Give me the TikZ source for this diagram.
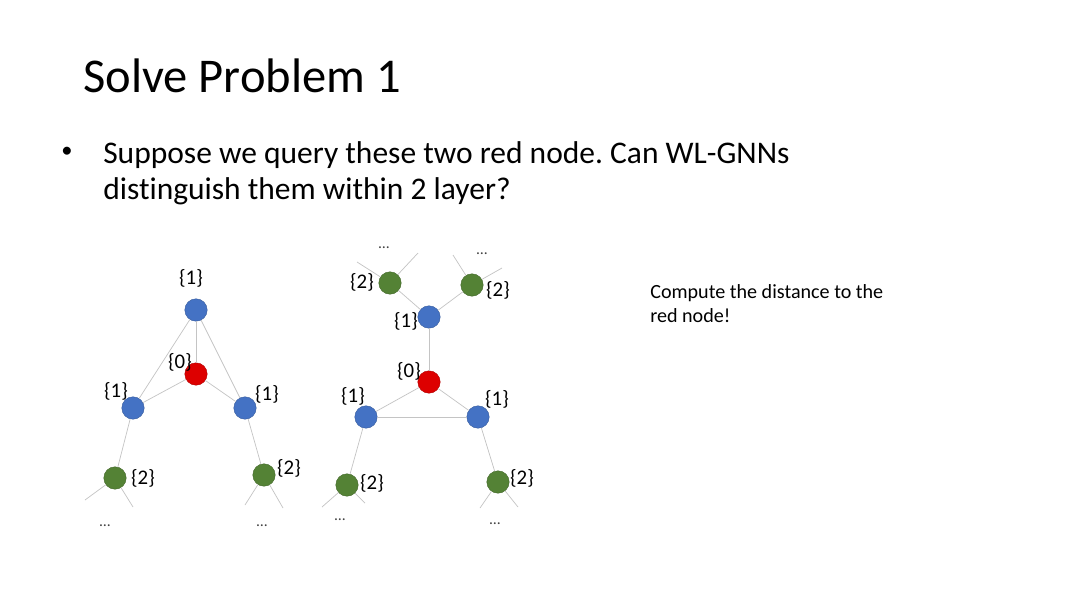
\documentclass[tikz,border=0pt]{standalone}
\usepackage{fontspec}
\setmainfont{Carlito}[Ligatures={NoCommon}]
\usetikzlibrary{positioning}
\definecolor{nodeblue}{HTML}{4472C4}
\definecolor{nodered}{HTML}{DD0000}
\definecolor{nodegreen}{HTML}{548235}
\definecolor{edgegray}{HTML}{C4C4C4}
\frenchspacing
\tikzset{
  % --- graph vertices ---
  vert/.style={circle, minimum size=5.6mm, inner sep=0pt, line width=0.3pt},
  vblue/.style={vert, fill=nodeblue, draw=nodeblue!80!black},
  vred/.style={vert, fill=nodered, draw=nodered!80!black},
  vgreen/.style={vert, fill=nodegreen, draw=nodegreen!80!black},
  % --- edges ---
  gedge/.style={draw=edgegray, line width=0.5pt},
  % --- texts ---
  bodyline/.style={anchor=base west, inner sep=0pt, font=\fontsize{22.4}{26}\selectfont},
  hintline/.style={anchor=base west, inner sep=0pt, font=\fontsize{14.3}{17}\selectfont},
  dist/.style={font=\fontsize{14.8}{16}\selectfont, inner sep=0pt},
  more/.style={font=\fontsize{11}{12}\selectfont, text=black!75, inner sep=0pt, anchor=base},
}

\begin{document}
\begin{tikzpicture}[x=0.025cm, y=-0.025cm]
    \useasboundingbox[fill=white] (0,0) rectangle (1080,607);
    % slide text
    \node[anchor=base west, inner sep=0pt, font=\fontsize{34.5}{40}\selectfont] (title) at (83,92) {Solve Problem 1};
    \node[inner sep=0pt, font=\fontsize{16}{18}\selectfont] (dot) at (67,152) {•};
    \node[bodyline] (body1) at (103,163) {Suppose we query these two red node. Can WL-GNNs};
    \node[bodyline] (body2) at (103,199) {distinguish them within 2 layer?};
    \node[hintline] (hint1) at (650,298) {Compute the distance to the};
    \node[hintline] (hint2) at (650,322) {red node!};
    % left graph
    \node[vblue]  (lt) at (196,310) {};
    \node[vred]   (lr) at (196,374) {};
    \node[vblue]  (ll) at (133,408) {};
    \node[vblue]  (lb) at (245,408) {};
    \node[vgreen] (lg1) at (115,478) {};
    \node[vgreen] (lg2) at (264,475) {};
    % right graph
    \node[vgreen] (ga) at (390,283) {};
    \node[vgreen] (gb) at (472,285) {};
    \node[vblue]  (rt) at (429,317) {};
    \node[vred]   (rr) at (429,382) {};
    \node[vblue]  (rl) at (366,417) {};
    \node[vblue]  (rb) at (478,417) {};
    \node[vgreen] (gc) at (347,485) {};
    \node[vgreen] (gd) at (498,482) {};
    % free ends of the stubs
    \foreach \n/\x/\y in {s1/85/500, s2/133/507, s3/245/505, s4/283/508,
      s5/357/262, s6/418/253, s7/453/255, s8/502/268,
      s9/322/507, s10/365/503, s11/480/508, s12/518/507}{
      \coordinate (\n) at (\x,\y); }
    % edges
    \foreach \a/\b in {lt/lr, lt/ll, lt/lb, lr/ll, lr/lb, ll/lg1, lb/lg2,
      ga/rt, gb/rt, rt/rr, rr/rl, rr/rb, rl/rb, rl/gc, rb/gd}{
      \draw[gedge] (\a) -- (\b); }
    \foreach \a/\b in {lg1/s1, lg1/s2, lg2/s3, lg2/s4, ga/s5, ga/s6, gb/s7, gb/s8,
      gc/s9, gc/s10, gd/s11, gd/s12}{
      \draw[gedge] (\a) -- (\b); }
    % distance labels
    \node[dist] (dlt)  at (191,278) {\{1\}};
    \node[dist] (dlr)  at (180,362) {\{0\}};
    \node[dist] (dll)  at (116,391) {\{1\}};
    \node[dist] (dlb)  at (267,394) {\{1\}};
    \node[dist] (dlg1) at (143,478) {\{2\}};
    \node[dist] (dlg2) at (289,468) {\{2\}};
    \node[dist] (dga)  at (362,282) {\{2\}};
    \node[dist] (dgb)  at (498,290) {\{2\}};
    \node[dist] (drt)  at (406,321) {\{1\}};
    \node[dist] (drr)  at (409,371) {\{0\}};
    \node[dist] (drl)  at (353,396) {\{1\}};
    \node[dist] (drb)  at (497,399) {\{1\}};
    \node[dist] (dgc)  at (372,483) {\{2\}};
    \node[dist] (dgd)  at (522,478) {\{2\}};
    % continuation dots
    \node[more] (m1) at (105,526) {\ldots};
    \node[more] (m2) at (262,526) {\ldots};
    \node[more] (m3) at (384,248) {\ldots};
    \node[more] (m4) at (482,254) {\ldots};
    \node[more] (m5) at (340,520) {\ldots};
    \node[more] (m6) at (495,524) {\ldots};
\end{tikzpicture}
\end{document}
